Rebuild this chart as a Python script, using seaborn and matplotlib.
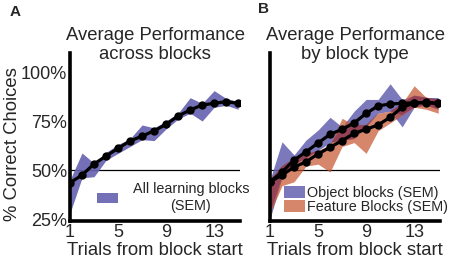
import numpy as np
import pandas as pd
import seaborn as sns
import matplotlib.pyplot as plt
from matplotlib.patches import Patch

# Trials and mean performance (fraction correct)
trials = list(range(1, 16))

all_mean = [0.435, 0.474, 0.531, 0.571, 0.611, 0.648, 0.673, 0.700, 0.733,
            0.776, 0.806, 0.832, 0.840, 0.849, 0.840]
all_lo = [0.28, 0.46, 0.466, 0.55, 0.585, 0.62, 0.655, 0.65, 0.71,
          0.76, 0.79, 0.75, 0.82, 0.83, 0.81]
all_hi = [0.45, 0.587, 0.535, 0.59, 0.63, 0.66, 0.73, 0.715, 0.75,
          0.79, 0.869, 0.84, 0.905, 0.865, 0.85]

obj_mean = [0.44, 0.49, 0.551, 0.593, 0.638, 0.682, 0.708, 0.740, 0.789,
            0.827, 0.837, 0.840, 0.843, 0.845, 0.840]
obj_lo = [0.25, 0.46, 0.53, 0.56, 0.60, 0.64, 0.65, 0.66, 0.72,
          0.79, 0.80, 0.72, 0.82, 0.83, 0.81]
obj_hi = [0.45, 0.644, 0.577, 0.653, 0.704, 0.769, 0.72, 0.80, 0.86,
          0.86, 0.94, 0.86, 0.88, 0.87, 0.87]

feat_mean = [0.44, 0.474, 0.515, 0.542, 0.582, 0.616, 0.650, 0.687, 0.708,
             0.730, 0.769, 0.820, 0.842, 0.844, 0.840]
feat_lo = [0.28, 0.42, 0.44, 0.52, 0.53, 0.49, 0.62, 0.64, 0.585,
           0.70, 0.74, 0.78, 0.82, 0.81, 0.79]
feat_hi = [0.45, 0.52, 0.56, 0.58, 0.60, 0.63, 0.764, 0.73, 0.73,
           0.79, 0.80, 0.84, 0.93, 0.87, 0.86]

yticks = [0.25, 0.5, 0.75, 1.0]
ytick_labels = ['25%', '50%', '75%', '100%']
xticks = [1, 5, 9, 13]

BLUE = '#6461b0'
RED = '#c4532c'
OVERLAP = '#8e3b55'

sns.set_style('white')
plt.rcParams['font.family'] = ['Liberation Sans', 'DejaVu Sans']

fig = plt.figure(figsize=(4.54, 2.61), dpi=100)
axA = fig.add_axes([70 / 454, 1 - 221 / 261, 170 / 454, 168 / 261])
axB = fig.add_axes([270 / 454, 1 - 221 / 261, 170 / 454, 168 / 261])


def style_axis(ax, title, show_y):
    ax.axhline(0.5, color='black', lw=0.9, zorder=1)
    ax.set_xlim(1, 15.15)
    ax.set_ylim(0.24, 1.097)
    for s in ['top', 'right']:
        ax.spines[s].set_visible(False)
    for s in ['left', 'bottom']:
        ax.spines[s].set_linewidth(2.6)
        ax.spines[s].set_color('black')
    ax.set_xticks(xticks)
    ax.set_xticklabels([str(t) for t in xticks], fontsize=13)
    ax.tick_params(axis='both', length=0, pad=2)
    if show_y:
        ax.set_yticks(yticks)
        ax.set_yticklabels(ytick_labels, fontsize=13)
        ax.set_ylabel('% Correct Choices', fontsize=13.3)
        ax.yaxis.set_label_coords(-0.29, 0.46)
    else:
        ax.set_yticks([])
        ax.set_ylabel('')
    ax.set_xlabel('Trials from block start', fontsize=13.3, labelpad=1)
    ax.set_title(title, fontsize=13.3, y=0.965, pad=0, linespacing=1.15)


# Panel A
axA.fill_between(trials, all_lo, all_hi, color=BLUE, alpha=0.9, lw=0, zorder=2)
sns.lineplot(x=trials, y=all_mean, ax=axA, color='black', lw=2.3,
             marker='o', markersize=6, markeredgewidth=0, zorder=3)
style_axis(axA, 'Average Performance\nacross blocks', True)
legA = axA.legend(handles=[Patch(color=BLUE, alpha=0.9, lw=0)],
                  labels=['All learning blocks\n(SEM)'], frameon=False,
                  loc='center left', bbox_to_anchor=(0.16, 0.14),
                  fontsize=10.4, handlelength=1.45, handleheight=0.7,
                  handletextpad=1.0, borderpad=0, borderaxespad=0)
for t in legA.get_texts():
    t.set_multialignment('center')

# Panel B: object band, feature band, and darker where they overlap
ov_lo = np.maximum(obj_lo, feat_lo)
ov_hi = np.minimum(obj_hi, feat_hi)
axB.fill_between(trials, obj_lo, obj_hi, color=BLUE, alpha=0.85, lw=0, zorder=2)
axB.fill_between(trials, feat_lo, feat_hi, color=RED, alpha=0.7, lw=0, zorder=2)
axB.fill_between(trials, ov_lo, ov_hi, where=ov_hi > ov_lo, interpolate=True,
                 color=OVERLAP, alpha=0.8, lw=0, zorder=2)
sns.lineplot(x=trials, y=obj_mean, ax=axB, color='black', lw=2.3,
             marker='o', markersize=6, markeredgewidth=0, zorder=3)
sns.lineplot(x=trials, y=feat_mean, ax=axB, color='black', lw=2.3,
             marker='o', markersize=6, markeredgewidth=0, zorder=3)
style_axis(axB, 'Average Performance\nby block type', False)
axB.legend(handles=[Patch(color=BLUE, alpha=0.85, lw=0),
                    Patch(color=RED, alpha=0.7, lw=0)],
           labels=['Object blocks (SEM)', 'Feature Blocks (SEM)'],
           frameon=False, loc='center left', bbox_to_anchor=(0.085, 0.125),
           fontsize=10.4, handlelength=1.4, handleheight=0.9,
           handletextpad=0.15, labelspacing=0.0, borderpad=0, borderaxespad=0)

fig.text(10 / 454, 1 - 12 / 261, 'A', fontsize=11, fontweight='bold',
         ha='left', va='center')
fig.text(258 / 454, 1 - 9 / 261, 'B', fontsize=11, fontweight='bold',
         ha='left', va='center')

fig.savefig('out.png', dpi=100)
